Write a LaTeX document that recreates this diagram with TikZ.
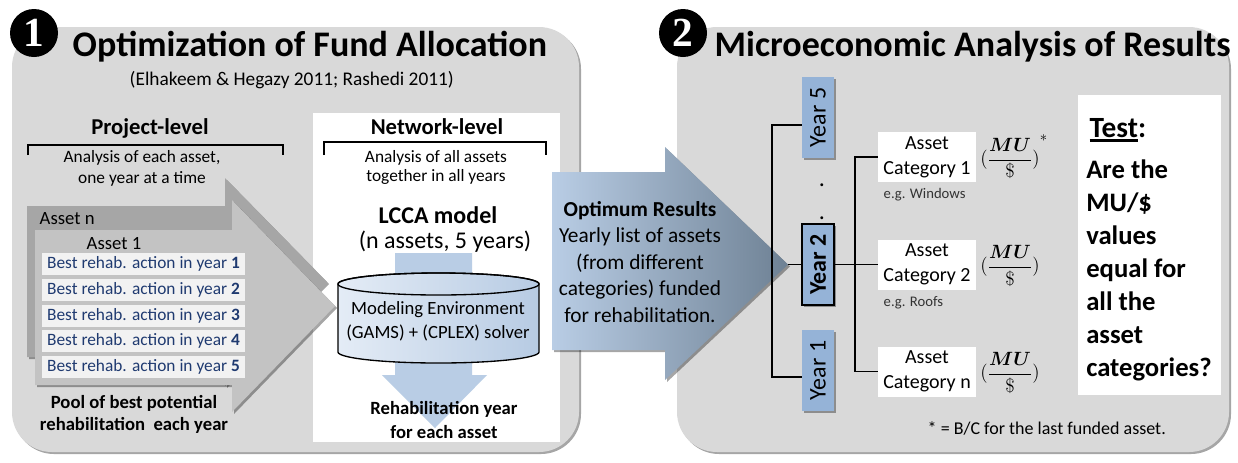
\documentclass[tikz,border=0pt]{standalone}
\usepackage{amsmath,amsbsy}
\usepackage{fontspec}
\setmainfont{Carlito}
\newfontfamily\numfont{Liberation Serif}
\usetikzlibrary{shadows,calc}
\newcommand\fsz[2]{\fontsize{#1pt}{#2pt}\selectfont}
\newcommand\thickul[1]{\setbox0\hbox{#1}\rlap{\rule[-3.2pt]{\wd0}{1.8pt}}\box0}
\definecolor{panel}{HTML}{D9D9D9}
\definecolor{darkarr}{HTML}{A6A6A6}
\definecolor{lightarr}{HTML}{C3C3C3}
\definecolor{rehabbox}{HTML}{F2F2F2}
\definecolor{rehabtxt}{HTML}{1F3A70}
\definecolor{yearblue}{HTML}{95B3D7}
\definecolor{arrblue}{HTML}{B9CDE5}
\definecolor{arrdark}{HTML}{6E8194}
\definecolor{cylL}{HTML}{E4ECF6}
\definecolor{cylR}{HTML}{B7CBE3}
\tikzset{
  softshadow/.style={drop shadow={shadow xshift=1.5pt, shadow yshift=-1.5pt, opacity=0.35, fill=black}},
  panelbox/.style={fill=panel, rounded corners=30pt, softshadow},
  numcircle/.style={circle, fill=black, minimum size=36pt, inner sep=0pt, text=white, font=\numfont\bfseries\fsz{31}{31}},
  titletext/.style={anchor=base west, font=\bfseries\fsz{27}{32}},
  bracketline/.style={line width=1pt, black},
  treeline/.style={line width=1.1pt, black},
  rehab/.style={fill=rehabbox, minimum width=152.25pt, minimum height=16.5pt, inner sep=0pt, text=rehabtxt, font=\fsz{13}{15}},
  yearbox/.style={fill=yearblue, minimum width=24pt, minimum height=60.75pt, inner sep=0pt, font=\fsz{18}{20}, softshadow},
  catbox/.style={fill=white, minimum width=73.5pt, minimum height=37.5pt, inner sep=0pt, align=center, font=\fsz{15}{18.75}},
  fracnode/.style={font=\fsz{15}{18}},
  egtext/.style={anchor=west, font=\fsz{11}{13}, text=black!80},
}
\begin{document}
\begin{tikzpicture}[x=0.75pt, y=-0.75pt]
\useasboundingbox (0,0) rectangle (1238,462);

% panels
\path[panelbox] (12,27) rectangle (579,452);
\path[panelbox] (677,27) rectangle (1229,452);

% titles
\node[numcircle] (n1) at (34,33) {1};
\node[titletext] (t1) at (68,56) {Optimization of Fund Allocation};
\node[anchor=west, font=\fsz{14.5}{17}] (sub) at (125,80) {(Elhakeem \& Hegazy 2011; Rashedi 2011)};

\node[numcircle] (n2) at (683,33) {2};
\node[titletext] (t2) at (710,56) {Microeconomic Analysis of Results};

% project level
\node[font=\bfseries\fsz{17}{20}] (pl) at (150,128) {Project-level};
\draw[bracketline] (28,155) -- (28,145) -- (283,145) -- (283,155);
\node[font=\fsz{13}{15.75}, align=center] (pa) at (142,168.5) {Analysis of each asset,\\one year at a time};

% network level white box
\path[fill=white] (313,113) rectangle (560,442);
\node[font=\bfseries\fsz{17}{20}] (nl) at (437,127) {Network-level};
\draw[bracketline] (324,155) -- (324,142) -- (546,142) -- (546,155);
\node[font=\fsz{13}{14.25}, align=center] (na) at (436,167.5) {Analysis of all assets\\together in all years};
\node[font=\bfseries\fsz{18}{21}] (lcca) at (438,215) {LCCA model};
\node[font=\fsz{18}{21}] (nass) at (445,242) {(n assets, 5 years)};

% down arrow
\path[fill=arrblue] (395,253) -- (472,253) -- (472,375) -- (487,375) -- (435,428) -- (382,375) -- (395,375) -- cycle;

% cylinder
\path[left color=cylL, right color=cylR, draw=black, line width=1pt]
  (338,284) -- (338,352) arc[start angle=180, end angle=0, x radius=100.5, y radius=11]
  -- (539,284) arc[start angle=360, end angle=180, x radius=100.5, y radius=11] -- cycle;
\draw[line width=1pt] (438.5,284) ellipse[x radius=100.5, y radius=11];
\node[font=\fsz{14}{18}, align=center] (cyl) at (438,321) {Modeling Environment\\(GAMS) + (CPLEX) solver};
\node[font=\bfseries\fsz{14}{18}, align=center] (ry) at (444,420) {Rehabilitation year\\for each asset};

% left arrows
\path[fill=darkarr, softshadow] (27,206) -- (225,206) -- (225,178) -- (327,282) -- (225,386) -- (225,357) -- (27,357) -- cycle;
\path[fill=lightarr, softshadow] (35,230) -- (232,230) -- (232,200) -- (335,306) -- (232,412) -- (232,385) -- (35,385) -- cycle;
\node[anchor=west, font=\fsz{14}{16}] (an) at (35,219) {Asset n};
\node[font=\fsz{14}{16}] (a1) at (114,244) {Asset 1};
\foreach \i/\y in {1/264,2/290,3/316,4/341,5/367}{
  \node[rehab] (r\i) at (143.5,\y) {Best rehab. action in year \textbf{\i}};
}
\node[font=\bfseries\fsz{14}{16.5}, align=center] (pool) at (134,414) {Pool of best potential\\rehabilitation\ \ each year};

% optimum arrow
\path[left color=arrblue, right color=arrdark, softshadow] (552,172) -- (665,172) -- (665,147) -- (788,264.5) -- (665,380) -- (665,350) -- (552,350) -- cycle;
\node[font=\fsz{16}{19.9}, align=center] (opt) at (640,262) {\textbf{Optimum Results}\\Yearly list of assets\\(from different\\categories) funded\\for rehabilitation.};

% years
\node[yearbox] (y5) at (818,117.5) {\rotatebox{90}{Year 5}};
\node[yearbox, draw=black, line width=1.6pt, font=\bfseries\fsz{18}{20}] (y2) at (818,264.5) {\rotatebox{90}{Year 2}};
\node[yearbox] (y1) at (818,370.5) {\rotatebox{90}{Year 1}};
\node[anchor=base, font=\fsz{18}{20}] (d1) at (822,186) {.};
\node[anchor=base, font=\fsz{18}{20}] (d2) at (822,219) {.};

\coordinate (v1t) at (772,125);
\coordinate (v1b) at (772,377);
\coordinate (tip) at (788,264.5);
\draw[treeline] (y5.west |- v1t) -- (v1t) -- (v1b) -- (y1.west |- v1b);
\draw[treeline] (tip) -- (y2.west);

% categories
\node[catbox] (cat1) at (927,157) {Asset\\Category 1};
\node[catbox] (cat2) at (927,264.5) {Asset\\Category 2};
\node[catbox] (catn) at (927,371.5) {Asset\\Category n};
\node[egtext] (eg1) at (879,195) {e.g. Windows};
\node[egtext] (eg2) at (879,303) {e.g. Roofs};

\coordinate (v2t) at (855,157);
\coordinate (v2b) at (855,371.5);
\draw[treeline] (cat1.west) -- (v2t) -- (v2b) -- (catn.west);
\draw[treeline] (y2.east) -- (cat2.west);

\node[fracnode] (f1) at (1010,157) {$(\dfrac{\boldsymbol{MU}}{\$})\rlap{\raisebox{1.15em}{$\scriptstyle\ast$}}$};
\node[fracnode] (f2) at (1010,266) {$(\dfrac{\boldsymbol{MU}}{\$})$};
\node[fracnode] (f3) at (1010,373) {$(\dfrac{\boldsymbol{MU}}{\$})$};

% test box
\node[fill=white, minimum width=107.25pt, minimum height=225pt, inner sep=0pt] (test) at (1149.5,245) {};
\node[anchor=west, font=\bfseries\fsz{22}{24}] (testh) at (1085,130) {\thickul{Test}:};
\node[anchor=west, align=left, font=\bfseries\fsz{20}{24.75}, inner sep=0pt] (testb) at (1086,270.5) {Are the\\MU/\$\\values\\equal for\\all the\\asset\\categories?};

\node[anchor=west, font=\fsz{13.5}{16}] (fn) at (923,428) {* = B/C for the last funded asset.};
\end{tikzpicture}
\end{document}
